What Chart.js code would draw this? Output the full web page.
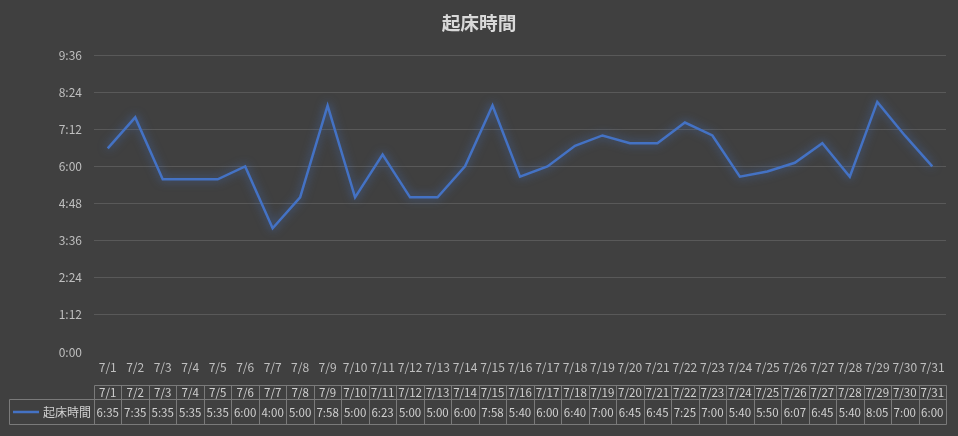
<!DOCTYPE html>
<html>
<head>
<meta charset="utf-8">
<script src="https://cdn.jsdelivr.net/npm/chart.js@4"></script>
<style>
  body { margin: 0; background: #404040; }
  #wrap { width: 958px; height: 436px; }
</style>
</head>
<body>
<div id="wrap"><canvas id="myChart"></canvas></div>
<script>
// data
const days = ["7/1", "7/2", "7/3", "7/4", "7/5", "7/6", "7/7", "7/8", "7/9", "7/10",
  "7/11", "7/12", "7/13", "7/14", "7/15", "7/16", "7/17", "7/18", "7/19", "7/20",
  "7/21", "7/22", "7/23", "7/24", "7/25", "7/26", "7/27", "7/28", "7/29", "7/30", "7/31"];
const wakeTimes = ["6:35", "7:35", "5:35", "5:35", "5:35", "6:00", "4:00", "5:00", "7:58", "5:00",
  "6:23", "5:00", "5:00", "6:00", "7:58", "5:40", "6:00", "6:40", "7:00", "6:45",
  "6:45", "7:25", "7:00", "5:40", "5:50", "6:07", "6:45", "5:40", "8:05", "7:00", "6:00"];
const seriesName = "起床時間";
const yMax = 576;   // 9:36 in minutes
const yStep = 72;   // 1:12

function toMinutes(s) {
  const p = s.split(":");
  return parseInt(p[0]) * 60 + parseInt(p[1]);
}
function toClock(m) {
  return Math.floor(m / 60) + ":" + String(m % 60).padStart(2, "0");
}
const minutes = wakeTimes.map(toMinutes);

const FONT = "'Noto Sans CJK JP', 'Noto Sans', sans-serif";
const lineColor = "#4472c4";

// glow under the line
const glowPlugin = {
  id: "glow",
  beforeDatasetsDraw(chart) {
    const ctx = chart.ctx;
    ctx.save();
    ctx.shadowColor = "rgba(68, 114, 196, 0.8)";
    ctx.shadowBlur = 10;
  },
  afterDatasetsDraw(chart) {
    chart.ctx.restore();
  }
};

// data table under the axis
const tablePlugin = {
  id: "dataTable",
  afterDraw(chart) {
    const ctx = chart.ctx;
    const x = chart.scales.x;
    const half = (x.getPixelForValue(1) - x.getPixelForValue(0)) / 2;
    const left = Math.round(x.getPixelForValue(0) - half) + 0.5;
    const right = Math.round(x.getPixelForValue(days.length - 1) + half) + 0.5;
    const top = chart.chartArea.bottom + 33.5;
    const mid = top + 14;
    const bot = top + 39;
    const legendLeft = 9.5;

    ctx.save();
    ctx.strokeStyle = "#7a7a7a";
    ctx.lineWidth = 1;
    ctx.beginPath();
    ctx.moveTo(left, top); ctx.lineTo(right, top);
    ctx.moveTo(legendLeft, mid); ctx.lineTo(right, mid);
    ctx.moveTo(legendLeft, bot); ctx.lineTo(right, bot);
    ctx.moveTo(legendLeft, mid); ctx.lineTo(legendLeft, bot);
    for (let i = 0; i <= days.length; i++) {
      const px = Math.round(x.getPixelForValue(i) - half) + 0.5;
      ctx.moveTo(px, top); ctx.lineTo(px, bot);
    }
    ctx.stroke();

    ctx.fillStyle = "#d0d0d0";
    ctx.font = "11.5px " + FONT;
    ctx.textAlign = "center";
    ctx.textBaseline = "middle";
    for (let i = 0; i < days.length; i++) {
      const px = x.getPixelForValue(i);
      ctx.fillText(days[i], px, (top + mid) / 2 + 0.5);
      ctx.fillText(wakeTimes[i], px, (mid + bot) / 2 + 0.5);
    }

    // legend key
    ctx.strokeStyle = lineColor;
    ctx.lineWidth = 2.5;
    ctx.beginPath();
    ctx.moveTo(13, (mid + bot) / 2);
    ctx.lineTo(39, (mid + bot) / 2);
    ctx.stroke();
    ctx.textAlign = "left";
    ctx.font = "12px " + FONT;
    ctx.fillText(seriesName, 43, (mid + bot) / 2 + 0.5);
    ctx.restore();
  }
};

const ctx = document.getElementById("myChart").getContext("2d");
const myChart = new Chart(ctx, {
  type: "line",
  data: {
    labels: days,
    datasets: [{
      label: seriesName,
      data: minutes,
      borderColor: lineColor,
      borderWidth: 2.5,
      pointRadius: 0,
      tension: 0,
      fill: false
    }]
  },
  options: {
    responsive: true,
    maintainAspectRatio: false,
    animation: false,
    layout: { padding: { left: 12, right: 12, top: 0, bottom: 0 } },
    plugins: {
      legend: { display: false },
      tooltip: { enabled: false },
      title: {
        display: true,
        text: seriesName,
        color: "#d9d9d9",
        font: { family: FONT, size: 18.67, weight: "bold" },
        padding: { top: 12, bottom: 20.6 }
      }
    },
    scales: {
      x: {
        offset: true,
        grid: { display: false, drawTicks: false },
        border: { display: false },
        ticks: {
          color: "#bfbfbf",
          font: { family: FONT, size: 12 },
          padding: 8,
          maxRotation: 0,
          autoSkip: false
        },
        afterFit(scale) { scale.height = 84; }
      },
      y: {
        min: 0,
        max: yMax,
        border: { display: false },
        grid: {
          drawTicks: false,
          color: (c) => c.tick && c.tick.value === 0 ? "rgba(0,0,0,0)" : "#595959"
        },
        ticks: {
          stepSize: yStep,
          color: "#bfbfbf",
          font: { family: FONT, size: 12 },
          padding: 12,
          callback: (v) => toClock(v)
        },
        afterFit(scale) { scale.width = 82; }
      }
    }
  },
  plugins: [glowPlugin, tablePlugin]
});
</script>
</body>
</html>
